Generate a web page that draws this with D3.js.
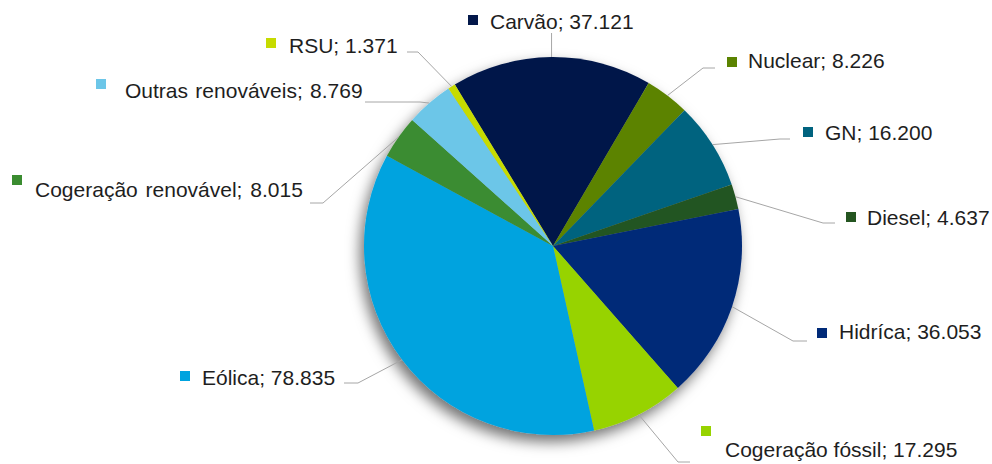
<!DOCTYPE html>
<html>
<head>
<meta charset="utf-8">
<script src="https://cdn.jsdelivr.net/npm/d3@7"></script>
<style>
  html, body { margin: 0; padding: 0; background: #ffffff; }
  svg { display: block; }
  text { font-family: "Liberation Sans", Arial, sans-serif; fill: #1e1e1e; }
</style>
</head>
<body>
<svg id="chart" width="992" height="464"></svg>
<script>
// Potência instalada por fonte (MW)
const categories = ["Carvão", "Nuclear", "GN", "Diesel", "Hidríca", "Cogeração fóssil",
                    "Eólica", "Cogeração renovável", "Outras renováveis", "RSU"];
const values = [37.121, 8.226, 16.200, 4.637, 36.053, 17.295, 78.835, 8.015, 8.769, 1.371];
const valueLabels = ["37.121", "8.226", "16.200", "4.637", "36.053", "17.295", "78.835", "8.015", "8.769", "1.371"];
const colors = ["#03184a", "#5b8300", "#00637f", "#245520", "#002a78", "#97d300",
                "#00a3df", "#3a8c30", "#6cc6e8", "#c6db00"];

// Label placement: text start/baseline, legend key, and leader elbow/end
const labelLayout = [
  { tx: 490, ty: 29,  kx: 468, ky: 15,  elbow: null,       end: [null, 33] },
  { tx: 748, ty: 68,  kx: 727, ky: 57,  elbow: [703, 68],  end: [715, 68] },
  { tx: 825, ty: 140, kx: 803, ky: 127, elbow: [780, 139], end: [790, 139] },
  { tx: 867, ty: 225, kx: 846, ky: 212, elbow: [823, 223], end: [835, 223] },
  { tx: 839, ty: 339, kx: 817, ky: 328, elbow: [793, 341], end: [807, 341] },
  { tx: 725, ty: 457, kx: 701, ky: 426, elbow: [678, 462], end: [690, 462] },
  { tx: 202, ty: 385, kx: 180, ky: 371, elbow: [358, 383], end: [344, 383] },
  { tx: 35,  ty: 197, kx: 12,  ky: 175, elbow: [323, 203], end: [310, 203], ws: 2 },
  { tx: 125, ty: 98,  kx: 96,  ky: 79,  elbow: [420, 102], end: [365, 102], ws: 1.5 },
  { tx: 289, ty: 53,  kx: 266, ky: 38,  elbow: [418, 52],  end: [407, 52] }
];

const cx = 553, cy = 246, radius = 189;
const startAngle = -31.3 * Math.PI / 180;

const svg = d3.select("#chart");

const defs = svg.append("defs");
const shadow = defs.append("filter").attr("id", "pieShadow")
  .attr("x", "-20%").attr("y", "-20%").attr("width", "140%").attr("height", "140%");
shadow.append("feDropShadow")
  .attr("dx", -4).attr("dy", 7).attr("stdDeviation", 7)
  .attr("flood-color", "#000").attr("flood-opacity", 0.55);

const data = categories.map((c, i) => ({ name: c, value: values[i], label: valueLabels[i], color: colors[i], layout: labelLayout[i] }));

const pie = d3.pie().value(d => d.value).sort(null)
  .startAngle(startAngle).endAngle(startAngle + 2 * Math.PI);
const arcs = pie(data);

const arc = d3.arc().innerRadius(0).outerRadius(radius);
const edgeArc = d3.arc().innerRadius(radius).outerRadius(radius);

const g = svg.append("g").attr("transform", `translate(${cx},${cy})`);

g.append("g").attr("filter", "url(#pieShadow)")
  .selectAll("path")
  .data(arcs)
  .join("path")
  .attr("d", arc)
  .attr("fill", d => d.data.color);

// Leader lines
const lines = svg.append("g");
arcs.forEach(a => {
  const [ex, ey] = edgeArc.centroid(a);
  const p0 = [cx + ex, cy + ey];
  const L = a.data.layout;
  const pts = [p0];
  if (L.elbow) pts.push(L.elbow);
  pts.push([L.end[0] === null ? p0[0] : L.end[0], L.end[1]]);
  lines.append("path")
    .attr("d", d3.line()(pts))
    .attr("fill", "none")
    .attr("stroke", "#a6a6a6")
    .attr("stroke-width", 1);
});

// Labels with legend keys
const labels = svg.append("g");
arcs.forEach(a => {
  const L = a.data.layout;
  labels.append("rect")
    .attr("x", L.kx).attr("y", L.ky)
    .attr("width", 10).attr("height", 10)
    .attr("fill", a.data.color);
  labels.append("text")
    .attr("x", L.tx).attr("y", L.ty)
    .attr("font-size", 21)
    .attr("word-spacing", L.ws || 0)
    .text(`${a.data.name}; ${a.data.label}`);
});
</script>
</body>
</html>
